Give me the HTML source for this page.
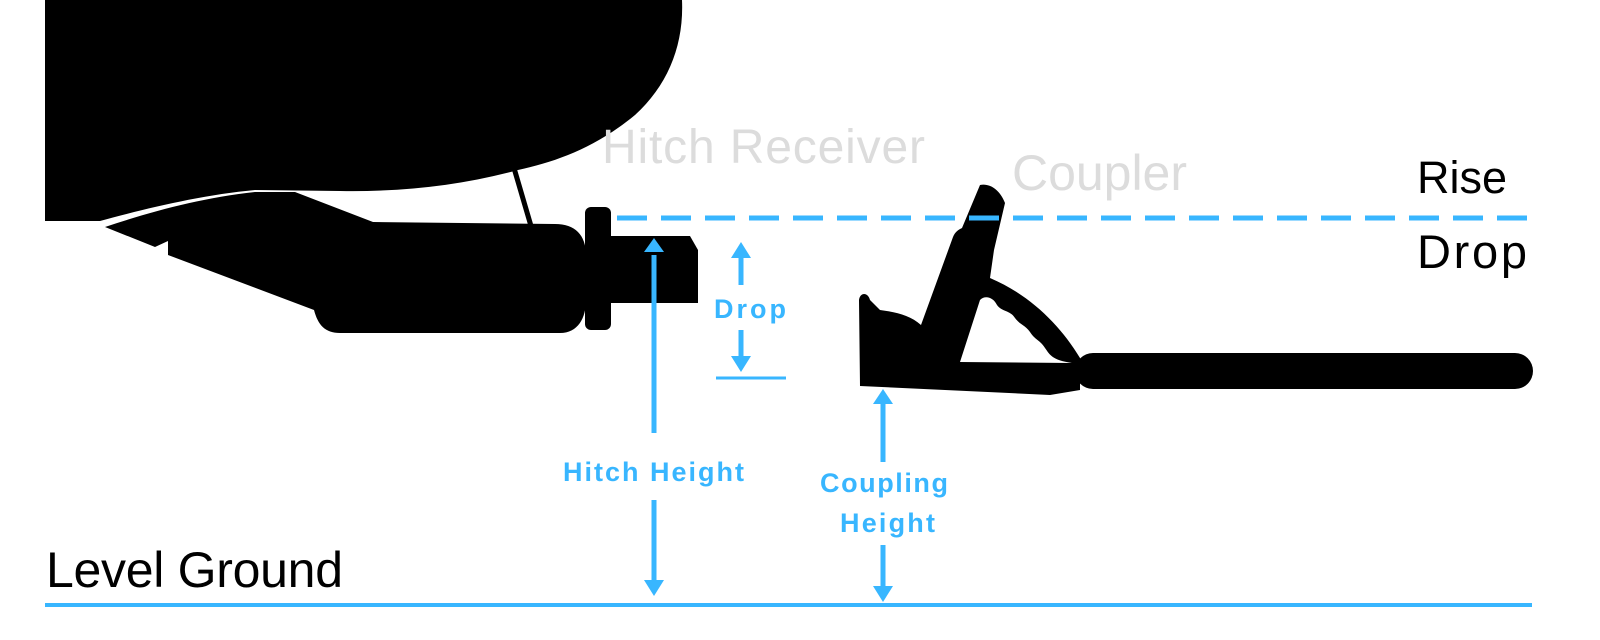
<!DOCTYPE html>
<html><head><style>html,body{margin:0;padding:0;background:#fff}svg{display:block}</style></head><body>
<svg width="1600" height="640" viewBox="0 0 1600 640" xmlns="http://www.w3.org/2000/svg">
<rect width="1600" height="640" fill="#fff"/>
<path d="M45,0 L682,0 C684,45 668,85 635,115 C595,148 555,162 518,170 C460,186 400,192 340,191 L255,190 C200,195 140,210 100,221 L45,221 Z" fill="#000"/>
<path d="M105,227 L155,247 L168,241 L168,255 L314,310 C318,325 325,333 340,333 L560,333 C578,333 586,318 586,300 L586,255 C586,235 575,224 555,224 L373,222 L295,192 L255,192 C200,198 150,212 105,227 Z" fill="#000"/>
<line x1="514" y1="168" x2="531" y2="226" stroke="#000" stroke-width="5"/>
<rect x="585" y="207" width="26" height="123" rx="6" fill="#000"/>
<path d="M610,236 L690,236 L698,250 L698,303 L610,303 Z" fill="#000"/>
<path d="M980,185 C990,183 1000,190 1005,203 L994,250 L990,278 C1030,295 1060,325 1080,358 L1080,390 L1050,395 L860,386 L859,300 C860,292 868,292 870,300 L880,310 C895,312 910,315 921,325 L953,237 C955,232 958,230 962,228 Z" fill="#000"/>
<path d="M980,300 C985,295 993,297 997,305 C1002,312 1010,310 1015,318 C1020,325 1025,325 1030,332 C1035,340 1040,340 1045,348 C1050,355 1052,360 1072,363 L960,362 Z" fill="#fff"/>
<rect x="1075" y="353" width="458" height="36" rx="18" fill="#000"/>
<line x1="617" y1="218" x2="1532" y2="218" stroke="#38b6ff" stroke-width="5" stroke-dasharray="30,14"/>
<line x1="45" y1="605" x2="1532" y2="605" stroke="#38b6ff" stroke-width="4"/>
<g stroke="#38b6ff" stroke-width="5" fill="none">
<line x1="654" y1="255" x2="654" y2="433"/>
<line x1="654" y1="500" x2="654" y2="582"/>
<line x1="741" y1="255" x2="741" y2="285"/>
<line x1="741" y1="330" x2="741" y2="360"/>
<line x1="716" y1="378" x2="786" y2="378" stroke-width="3"/>
<line x1="883" y1="402" x2="883" y2="462"/>
<line x1="883" y1="545" x2="883" y2="588"/>
</g>
<g fill="#38b6ff">
<path d="M644,252 L654,238 L664,252 Z"/>
<path d="M644,580 L654,596 L664,580 Z"/>
<path d="M731,258 L741,242 L751,258 Z"/>
<path d="M731,356 L741,372 L751,356 Z"/>
<path d="M873,404 L883,389 L893,404 Z"/>
<path d="M873,586 L883,602 L893,586 Z"/>
</g>
<g font-family="'Liberation Sans',sans-serif">
<text x="602" y="163" font-size="48" fill="#dcdcdc" textLength="323">Hitch Receiver</text>
<text x="1012" y="190" font-size="50" fill="#dcdcdc" textLength="175">Coupler</text>
<text x="1417" y="193" font-size="45" fill="#000" textLength="90">Rise</text>
<text x="1417" y="268" font-size="47" fill="#000" textLength="110">Drop</text>
<text x="46" y="587" font-size="50" fill="#000" textLength="297">Level Ground</text>
<g font-size="27" font-weight="bold" fill="#38b6ff">
<text x="714" y="318" textLength="72">Drop</text>
<text x="563" y="481" textLength="181">Hitch Height</text>
<text x="820" y="492" textLength="128">Coupling</text>
<text x="840" y="532" textLength="95">Height</text>
</g>
</g>
</svg>
</body></html>
